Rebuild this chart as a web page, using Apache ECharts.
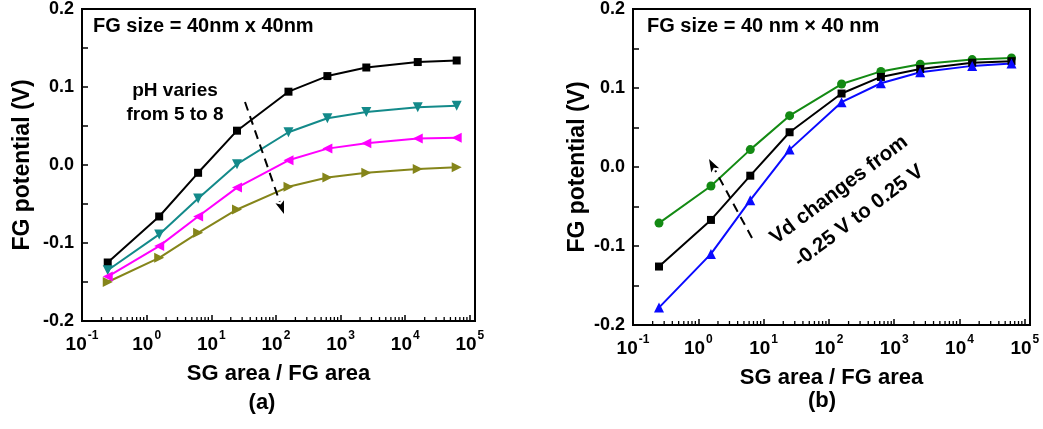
<!DOCTYPE html>
<html>
<head>
<meta charset="utf-8">
<script src="https://cdn.jsdelivr.net/npm/echarts@6/dist/echarts.min.js"></script>
<style>
html,body{margin:0;padding:0;background:#fff;}
#chart{width:1043px;height:429px;}
</style>
</head>
<body>
<div id="chart"></div>
<script>
// ---- data ----
const xVals = [0.25, 1.5625, 6.25, 25, 156.25, 625, 2500, 15625, 62500];
// panel (a): pH varies from 5 to 8
const phBlack   = [-0.125, -0.066, -0.010, 0.044, 0.094, 0.114, 0.125, 0.132, 0.134];
const phTeal    = [-0.135, -0.089, -0.043, 0.001, 0.042, 0.060, 0.068, 0.074, 0.076];
const phMagenta = [-0.143, -0.104, -0.066, -0.029, 0.006, 0.021, 0.028, 0.034, 0.035];
const phOlive   = [-0.150, -0.119, -0.087, -0.057, -0.028, -0.016, -0.010, -0.005, -0.003];
// panel (b): Vd changes from -0.25 V to 0.25 V
const vdGreen = [-0.071, -0.024, 0.022, 0.065, 0.105, 0.121, 0.130, 0.136, 0.138];
const vdBlack = [-0.126, -0.067, -0.011, 0.044, 0.093, 0.114, 0.124, 0.132, 0.134];
const vdBlue  = [-0.178, -0.110, -0.042, 0.022, 0.082, 0.106, 0.120, 0.128, 0.131];
// axis ticks
const yTicks = [-0.2, -0.1, 0.0, 0.1, 0.2];
const xDecades = [-1, 0, 1, 2, 3, 4, 5];
const minorMult = [2, 3, 4, 5, 6, 7, 8, 9];

const FONT = "'Liberation Sans', Arial, sans-serif";
const minorVals = [];
xDecades.forEach(d => { if (d < 5) minorMult.forEach(m => minorVals.push(m * Math.pow(10, d))); });

const chart = echarts.init(document.getElementById('chart'), null, {renderer: 'canvas'});

function pair(ys) { return xVals.map((x, i) => [x, ys[i]]); }

function xAxisCfg(gi) {
  return {
    type: 'log', gridIndex: gi, logBase: 10, min: 0.1, max: 120000,
    name: 'SG area / FG area', nameLocation: 'middle', nameGap: 42,
    nameTextStyle: {fontFamily: FONT, fontWeight: 'bold', fontSize: 22, color: '#000'},
    axisLine: {show: true, onZero: false, lineStyle: {color: '#000', width: 2}},
    axisTick: {show: true, inside: true, length: 6, lineStyle: {color: '#000', width: 1.5}},
    splitLine: {show: false},
    axisLabel: {
      margin: 9, color: '#000',
      formatter: function (v) {
        const e = Math.log10(v);
        const r = Math.round(e);
        if (Math.abs(e - r) > 1e-6 || xDecades.indexOf(r) < 0) return '';
        return '{b|10}{s|' + r + '}';
      },
      rich: {
        b: {fontFamily: FONT, fontWeight: 'bold', fontSize: 19, color: '#000', verticalAlign: 'bottom', lineHeight: 24},
        s: {fontFamily: FONT, fontWeight: 'bold', fontSize: 12, color: '#000', verticalAlign: 'top', lineHeight: 24, padding: [0, 0, 12, 1]}
      }
    }
  };
}
function yAxisCfg(gi, gap) {
  return {
    type: 'value', gridIndex: gi, min: -0.2, max: 0.2, interval: 0.1,
    name: 'FG potential (V)', nameLocation: 'middle', nameGap: gap, nameRotate: 90,
    nameTextStyle: {fontFamily: FONT, fontWeight: 'bold', fontSize: 23, color: '#000'},
    axisLine: {show: true, onZero: false, lineStyle: {color: '#000', width: 2}},
    axisTick: {show: true, inside: true, length: 6, lineStyle: {color: '#000', width: 1.5}},
    minorTick: {show: true, splitNumber: 2, length: 6, lineStyle: {color: '#000', width: 1.5}},
    splitLine: {show: false},
    axisLabel: {
      margin: 8, fontFamily: FONT, fontWeight: 'bold', fontSize: 18, color: '#000',
      formatter: v => (Math.abs(v) < 1e-9 ? 0 : v).toFixed(1)
    }
  };
}
function line(name, gi, ys, color, symbol, rot, size) {
  return {
    name: name, type: 'line', xAxisIndex: gi, yAxisIndex: gi, data: pair(ys),
    symbol: symbol, symbolRotate: rot, symbolSize: size, showSymbol: true,
    lineStyle: {color: color, width: 2}, itemStyle: {color: color},
    z: 3, animation: false
  };
}
function minorSeries(gi) {
  return {
    type: 'custom', xAxisIndex: gi, yAxisIndex: gi, silent: true, animation: false, clip: false,
    data: minorVals.map(v => [v, -0.2]),
    renderItem: function (params, api) {
      const p = api.coord([api.value(0), api.value(1)]);
      return {type: 'line', shape: {x1: p[0], y1: p[1], x2: p[0], y2: p[1] - 4},
              style: {stroke: '#000', lineWidth: 1.3}};
    }
  };
}

function arrow(x1, y1, x2, y2) {
  const dx = x2 - x1, dy = y2 - y1, L = Math.sqrt(dx * dx + dy * dy);
  const ux = dx / L, uy = dy / L, hl = 13, hw = 4.5;
  const bx = x2 - ux * hl, by = y2 - uy * hl;
  return [
    {type: 'line', shape: {x1: x1, y1: y1, x2: bx, y2: by},
     style: {stroke: '#000', lineWidth: 2, lineDash: [9, 6]}, z: 10},
    {type: 'polygon', shape: {points: [[x2, y2], [bx - uy * hw, by + ux * hw], [bx + ux * 3, by + uy * 3], [bx + uy * hw, by - ux * hw]]},
     style: {fill: '#000'}, z: 10}
  ];
}

const textStyle = (s, size) => ({text: s, fontFamily: FONT, fontWeight: 'bold', fontSize: size, fill: '#000'});

const graphics = [
  {type: 'text', left: 93, top: 16, style: textStyle('FG size = 40nm x 40nm', 20), z: 10},
  {type: 'text', left: 647, top: 16, style: textStyle('FG size = 40 nm \u00d7 40 nm', 20), z: 10},
  {type: 'text', x: 175, y: 103, style: Object.assign(textStyle('pH varies\nfrom 5 to 8', 19), {textAlign: 'center', textVerticalAlign: 'middle', lineHeight: 24}), z: 10},
  {type: 'text', x: 849, y: 203, rotation: 37 * Math.PI / 180,
   style: Object.assign(textStyle('Vd changes from\n-0.25 V to 0.25 V', 20.5), {textAlign: 'center', textVerticalAlign: 'middle', lineHeight: 33}), z: 10},
  {type: 'text', x: 262, y: 403, style: Object.assign(textStyle('(a)', 22), {textAlign: 'center', textVerticalAlign: 'middle'}), z: 10},
  {type: 'text', x: 822, y: 401, style: Object.assign(textStyle('(b)', 22), {textAlign: 'center', textVerticalAlign: 'middle'}), z: 10}
].concat(arrow(245, 102, 284, 214), arrow(752, 238, 709, 159));

chart.setOption({
  animation: false,
  backgroundColor: '#fff',
  grid: [
    {left: 82, top: 7, width: 393, height: 314, show: true, borderColor: '#000', borderWidth: 2, backgroundColor: 'transparent'},
    {left: 633, top: 7, width: 397, height: 318, show: true, borderColor: '#000', borderWidth: 2, backgroundColor: 'transparent'}
  ],
  xAxis: [xAxisCfg(0), xAxisCfg(1)],
  yAxis: [yAxisCfg(0, 48), yAxisCfg(1, 44)],
  series: [
    line('pH 5', 0, phBlack, '#000000', 'rect', 0, 8),
    line('pH 6', 0, phTeal, '#138a8a', 'triangle', 180, 10),
    line('pH 7', 0, phMagenta, '#ff00ff', 'triangle', 90, 10),
    line('pH 8', 0, phOlive, '#85851a', 'triangle', -90, 10),
    line('Vd 0.25', 1, vdGreen, '#138a13', 'circle', 0, 9),
    line('Vd 0', 1, vdBlack, '#000000', 'rect', 0, 8),
    line('Vd -0.25', 1, vdBlue, '#0a0aff', 'triangle', 0, 10),
    minorSeries(0), minorSeries(1)
  ],
  graphic: graphics
});
</script>
</body>
</html>
